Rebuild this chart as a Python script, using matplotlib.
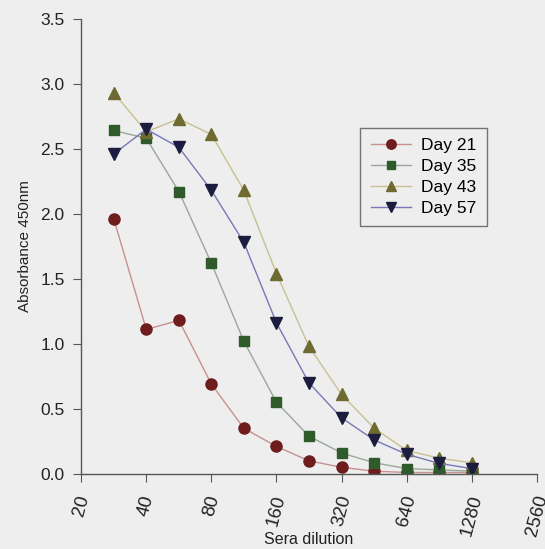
import matplotlib
matplotlib.use('Agg')
import matplotlib.pyplot as plt
import matplotlib.ticker as mticker
import numpy as np

plt.rcParams['font.family'] = ['Liberation Sans', 'DejaVu Sans']

# dilutions at half-doubling steps between 20 and 1280
dilution = [28.3, 40, 56.6, 80, 113, 160, 226, 320, 453, 640, 905, 1280]

day21 = [1.96, 1.11, 1.18, 0.69, 0.35, 0.21, 0.10, 0.05, 0.02, 0.01, 0.01, 0.01]
day35 = [2.64, 2.58, 2.17, 1.62, 1.02, 0.55, 0.29, 0.16, 0.085, 0.04, 0.03, 0.02]
day43 = [2.93, 2.63, 2.73, 2.61, 2.18, 1.54, 0.98, 0.61, 0.35, 0.18, 0.12, 0.085]
day57 = [2.46, 2.65, 2.51, 2.18, 1.78, 1.16, 0.70, 0.43, 0.26, 0.15, 0.08, 0.04]

xticks = [20, 40, 80, 160, 320, 640, 1280, 2560]
yticks = [0.0, 0.5, 1.0, 1.5, 2.0, 2.5, 3.0, 3.5]

bg = '#eeeeee'
fig = plt.figure(figsize=(5.45, 5.49), dpi=100, facecolor=bg)
ax = fig.add_axes([0.149, 0.137, 0.836, 0.829], facecolor=bg)

series = [
    ('Day 21', day21, 'o', '#6e1c1c', '#c89090', 8),
    ('Day 35', day35, 's', '#2f5a2a', '#9aa89a', 7),
    ('Day 43', day43, '^', '#6e6a30', '#c8c090', 8),
    ('Day 57', day57, 'v', '#1c1c3e', '#7878b8', 8),
]
for name, vals, mk, mc, lc, ms in series:
    ax.plot(dilution, vals, color=lc, lw=1.0, marker=mk, ms=ms,
            markerfacecolor=mc, markeredgecolor=mc, label=name)

ax.set_xscale('log', base=2)
ax.set_xlim(20, 2560)
ax.set_ylim(0, 3.5)
ax.xaxis.set_major_locator(mticker.FixedLocator(xticks))
ax.xaxis.set_minor_locator(mticker.NullLocator())
ax.set_xticklabels([str(t) for t in xticks], rotation=75, ha='center', va='top')
ax.set_yticks(yticks)
ax.set_yticklabels(['{:.1f}'.format(t) for t in yticks])

for s in ['top', 'right']:
    ax.spines[s].set_visible(False)
for s in ['left', 'bottom']:
    ax.spines[s].set_color('#555555')
    ax.spines[s].set_linewidth(1.0)

ax.tick_params(axis='both', direction='out', length=6, color='#555555',
               labelsize=12.5, labelcolor='#222222')
ax.tick_params(axis='x', pad=8, labelsize=13.5)
ax.tick_params(axis='y', pad=6)

ax.set_xlabel('Sera dilution', fontsize=11.5, color='#222222')
ax.xaxis.set_label_coords(0.5, -0.127)
ax.set_ylabel('Absorbance 450nm', fontsize=11, color='#222222', labelpad=6)

leg = ax.legend(loc='upper right', bbox_to_anchor=(0.89, 0.76), fontsize=12.5,
                frameon=True, fancybox=False, edgecolor='#555555', facecolor=bg,
                handlelength=2.3, borderpad=0.6, labelspacing=0.32,
                handletextpad=0.6, markerscale=0.85, borderaxespad=0)
leg.get_frame().set_linewidth(1.0)

fig.savefig('out.png', dpi=100, facecolor=bg)
